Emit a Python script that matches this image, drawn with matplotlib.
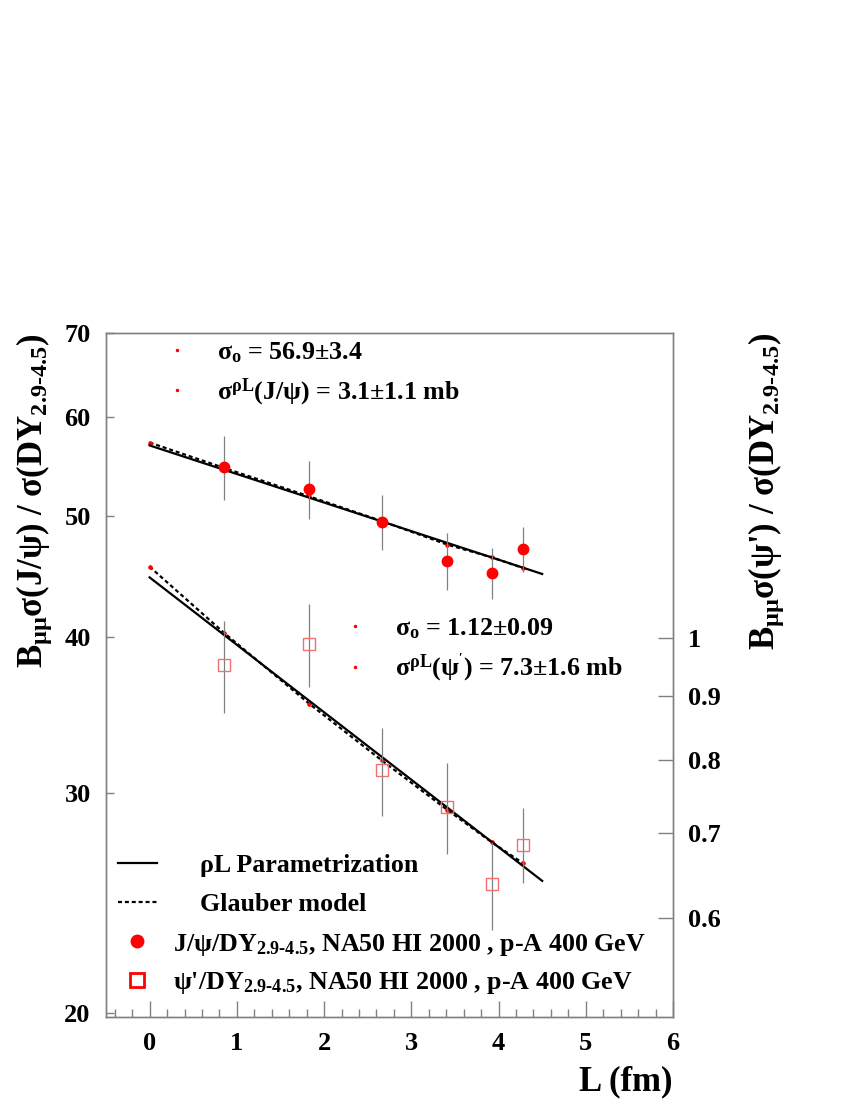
"""J/psi and psi' over Drell-Yan vs L, NA50 p-A 400 GeV, with rhoL and Glauber curves."""

import matplotlib
matplotlib.use("Agg")
import matplotlib.pyplot as plt
from matplotlib.lines import Line2D
from matplotlib.ticker import FixedLocator, MultipleLocator, NullLocator

# measured points
L_data = [0.85, 1.83, 2.66, 3.41, 3.92, 4.28]
jpsi = [54.7, 52.5, 49.4, 46.0, 45.0, 47.0]
jpsi_err = [3.2, 2.8, 2.5, 2.4, 2.1, 1.95]
psip = [0.952, 0.990, 0.786, 0.735, 0.638, 0.686]
psip_err = [0.080, 0.075, 0.063, 0.061, 0.051, 0.047]

# rhoL parametrization (straight on log axis -> endpoints)
L_fit = [0.0, 4.5]
jpsi_fit = [56.9, 44.9]
psip_fit = [1.117, 0.642]

# Glauber model values
L_glauber = [0.0, 0.85, 1.83, 2.66, 3.41, 3.92, 4.28]
jpsi_glauber = [57.2, 54.6, 51.8, 49.5, 47.4, 46.3, 45.4]
psip_glauber = [1.139, 1.010, 0.887, 0.800, 0.731, 0.689, 0.663]

left_ticks = [20, 30, 40, 50, 60, 70]
right_ticks = [0.6, 0.7, 0.8, 0.9, 1.0]
right_tick_labels = ["0.6", "0.7", "0.8", "0.9", "1"]

plt.rcParams["font.family"] = ["Liberation Serif", "DejaVu Serif"]
plt.rcParams["font.weight"] = "bold"
plt.rcParams["mathtext.fontset"] = "custom"
plt.rcParams["mathtext.rm"] = "Liberation Serif:bold"
plt.rcParams["mathtext.it"] = "Liberation Serif:bold"
plt.rcParams["mathtext.bf"] = "Liberation Serif:bold"

GREY = "#808080"
FS = 19
FS_KEY = 18.7

fig = plt.figure(figsize=(8.5, 11), dpi=100)
ax = fig.add_axes([0.1247, 0.0755, 0.6671, 0.6218])
ax2 = ax.twinx()

# J/psi
ax.plot(L_glauber, jpsi_glauber, ls=(0, (1.8, 1.3)), color="black", lw=1.6, zorder=2)
ax.plot(L_glauber, jpsi_glauber, ls="none", marker="o", ms=2.3, color="red", zorder=3)
ax.plot(L_fit, jpsi_fit, color="black", lw=1.6, zorder=3)
ax.errorbar(L_data, jpsi, yerr=jpsi_err, fmt="o", ms=7.5, color="red",
            ecolor=GREY, elinewidth=0.9, capsize=0, zorder=4)

# psi'
ax2.plot(L_glauber, psip_glauber, ls=(0, (1.8, 1.3)), color="black", lw=1.6, zorder=2)
ax2.plot(L_glauber, psip_glauber, ls="none", marker="o", ms=2.3, color="red", zorder=3)
ax2.plot(L_fit, psip_fit, color="black", lw=1.6, zorder=3)
ax2.errorbar(L_data, psip, yerr=psip_err, fmt="s", ms=8.5, mfc="none",
             mec="#f07070", mew=1.0, ecolor=GREY, elinewidth=0.9, capsize=0, zorder=4)

# axes ranges and scales
ax.set_xlim(-0.5, 6)
ax.set_yscale("log")
ax.set_ylim(19.85, 70)
ax2.set_yscale("log")
ax2.set_ylim(0.5008, 1.745)

ax.xaxis.set_major_locator(MultipleLocator(1))
ax.xaxis.set_minor_locator(MultipleLocator(0.2))
ax.yaxis.set_major_locator(FixedLocator(left_ticks))
ax.yaxis.set_minor_locator(NullLocator())
ax.set_yticklabels([str(t) for t in left_ticks])
ax2.yaxis.set_major_locator(FixedLocator(right_ticks))
ax2.yaxis.set_minor_locator(NullLocator())
ax2.set_yticklabels(right_tick_labels)

for a in (ax, ax2):
    for s in a.spines.values():
        s.set_color(GREY)
        s.set_linewidth(1.0)

ax.tick_params(axis="x", which="major", direction="in", length=11.5, width=1,
               color=GREY, labelsize=FS, pad=11, top=False)
ax.tick_params(axis="x", which="minor", direction="in", length=5.5, width=1,
               color=GREY, top=False)
ax.tick_params(axis="y", which="major", direction="in", length=6, width=1,
               color=GREY, labelsize=FS, pad=11, right=False)
ax2.tick_params(axis="y", which="major", direction="in", length=11, width=1,
                color=GREY, labelsize=FS, pad=11, left=False)

# axis titles
fig.text(0.040, 0.6973, r"B$_{\mu\mu}$σ(J/ψ) / σ(DY$_{\text{2.9-4.5}}$)",
         rotation=90, ha="center", va="top", fontsize=25, fontweight="bold")
fig.text(0.902, 0.6973, r"B$_{\mu\mu}$σ(ψ') / σ(DY$_{\text{2.9-4.5}}$)",
         rotation=90, ha="center", va="top", fontsize=25, fontweight="bold")
fig.text(0.7906, 0.0164, "L (fm)", ha="right", va="center",
         fontsize=25, fontweight="bold")

# fit results and key, drawn as ROOT-style legends on the top axes
dot = dict(marker="o", ms=1.5, color="red", ls="none")
common = dict(loc="center left", bbox_transform=fig.transFigure, frameon=False,
              fontsize=FS_KEY, borderpad=0, borderaxespad=0)

leg_a = ax2.legend(
    [Line2D([], [], **dot), Line2D([], [], **dot)],
    [r"σ$_{\text{o}}$ = 56.9±3.4", r"σ$^{\text{ρL}}$(J/ψ) = 3.1±1.1 mb"],
    bbox_to_anchor=(165 / 850, 1 - 374 / 1100),
    handlelength=0.9, handletextpad=1.12, labelspacing=0.45, **common)
ax2.add_artist(leg_a)

leg_b = ax2.legend(
    [Line2D([], [], **dot), Line2D([], [], **dot)],
    [r"σ$_{\text{o}}$ = 1.12±0.09", r"σ$^{\text{ρL}}$(ψ$^{'}$) = 7.3±1.6 mb"],
    bbox_to_anchor=(343 / 850, 1 - 650 / 1100),
    handlelength=0.9, handletextpad=1.12, labelspacing=0.42, **common)
ax2.add_artist(leg_b)

leg_c = ax2.legend(
    [Line2D([], [], color="black", lw=1.6),
     Line2D([], [], color="black", lw=1.6, ls=(0, (1.8, 1.3)))],
    ["ρL Parametrization", "Glauber model"],
    bbox_to_anchor=(118 / 850, 1 - 885 / 1100),
    handlelength=1.5, handletextpad=1.66, labelspacing=0.62, **common)
ax2.add_artist(leg_c)

ax2.legend(
    [Line2D([], [], marker="o", ms=9, color="red", ls="none"),
     Line2D([], [], marker="s", ms=9.5, mfc="none", mec="red", mew=2, ls="none")],
    [r"J/ψ/DY$_{\text{2.9-4.5}}$, NA50 HI 2000 , p-A 400 GeV",
     r"ψ'/DY$_{\text{2.9-4.5}}$, NA50 HI 2000 , p-A 400 GeV"],
    bbox_to_anchor=(125 / 850, 1 - 964 / 1100),
    handlelength=0.94, handletextpad=0.89, labelspacing=0.5, **common)

fig.savefig("out.png", dpi=100)
